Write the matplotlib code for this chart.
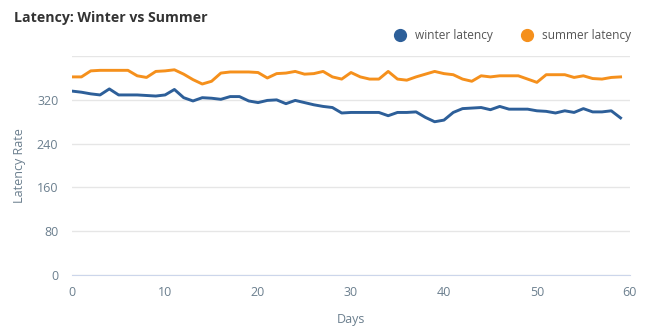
import matplotlib
matplotlib.use("Agg")
import matplotlib.pyplot as plt
import numpy as np

# days 0..59, values
days = np.arange(60)
winter = [336, 334, 331, 329, 340, 329, 329, 329, 328, 327,
          329, 339, 324, 318, 324, 323, 321, 326, 326, 318,
          315, 319, 320, 313, 319, 315, 311, 308, 306, 296,
          297, 297, 297, 297, 291, 297, 297, 298, 288, 280,
          283, 297, 304, 305, 306, 302, 308, 303, 303, 303,
          300, 299, 296, 300, 297, 304, 298, 298, 300, 287]
summer = [362, 362, 373, 374, 374, 374, 374, 364, 361, 372,
          373, 375, 367, 357, 349, 354, 369, 371, 371, 371,
          370, 360, 368, 369, 372, 367, 368, 372, 362, 358,
          370, 362, 358, 358, 372, 358, 356, 362, 367, 372,
          368, 366, 358, 354, 364, 362, 364, 364, 364, 358,
          352, 366, 366, 366, 361, 364, 359, 358, 361, 362]

x_ticks = [0, 10, 20, 30, 40, 50, 60]
y_ticks = [0, 80, 160, 240, 320, 400]

blue = "#2d5f99"
orange = "#f5901c"
label_col = "#6b7f8e"

plt.rcParams["font.family"] = ["Open Sans", "DejaVu Sans"]

fig = plt.figure(figsize=(6.5, 3.34), dpi=100)
ax = fig.add_axes([0.111, 0.177, 0.858, 0.655])

ax.plot(days, winter, color=blue, lw=2.1, label="winter latency", solid_joinstyle="round")
ax.plot(days, summer, color=orange, lw=2.1, label="summer latency", solid_joinstyle="round")

ax.set_xlim(0, 60)
ax.set_ylim(0, 400)
ax.set_xticks(x_ticks)
ax.set_yticks(y_ticks)
ax.set_yticklabels([str(v) for v in y_ticks[:-1]] + [""])
ax.grid(axis="y", color="#e6e6e6", lw=1)
ax.set_axisbelow(True)
for s in ["top", "right", "left"]:
    ax.spines[s].set_visible(False)
ax.spines["bottom"].set_color("#ccd6eb")
ax.tick_params(axis="both", length=0, colors=label_col, labelsize=9)
ax.tick_params(axis="x", pad=8)
ax.tick_params(axis="y", pad=10)

ax.set_xlabel("Days", color=label_col, fontsize=9, labelpad=10)
ax.set_ylabel("Latency Rate", color=label_col, fontsize=9, labelpad=8)

fig.text(0.022, 0.945, "Latency: Winter vs Summer", fontsize=10.2, fontweight="bold",
         color="#333333", va="center", ha="left")

leg = fig.legend(loc="center right", bbox_to_anchor=(0.988, 0.893), ncol=2, frameon=False,
                 fontsize=8.6, handlelength=0.8, handletextpad=0.9, columnspacing=2.4,
                 labelcolor="#555555")
for h, c in zip(leg.legend_handles, [blue, orange]):
    h.set_linestyle("none")
    h.set_marker("o")
    h.set_markersize(8.5)
    h.set_markerfacecolor(c)
    h.set_markeredgecolor(c)

fig.savefig("out.png", dpi=100)
